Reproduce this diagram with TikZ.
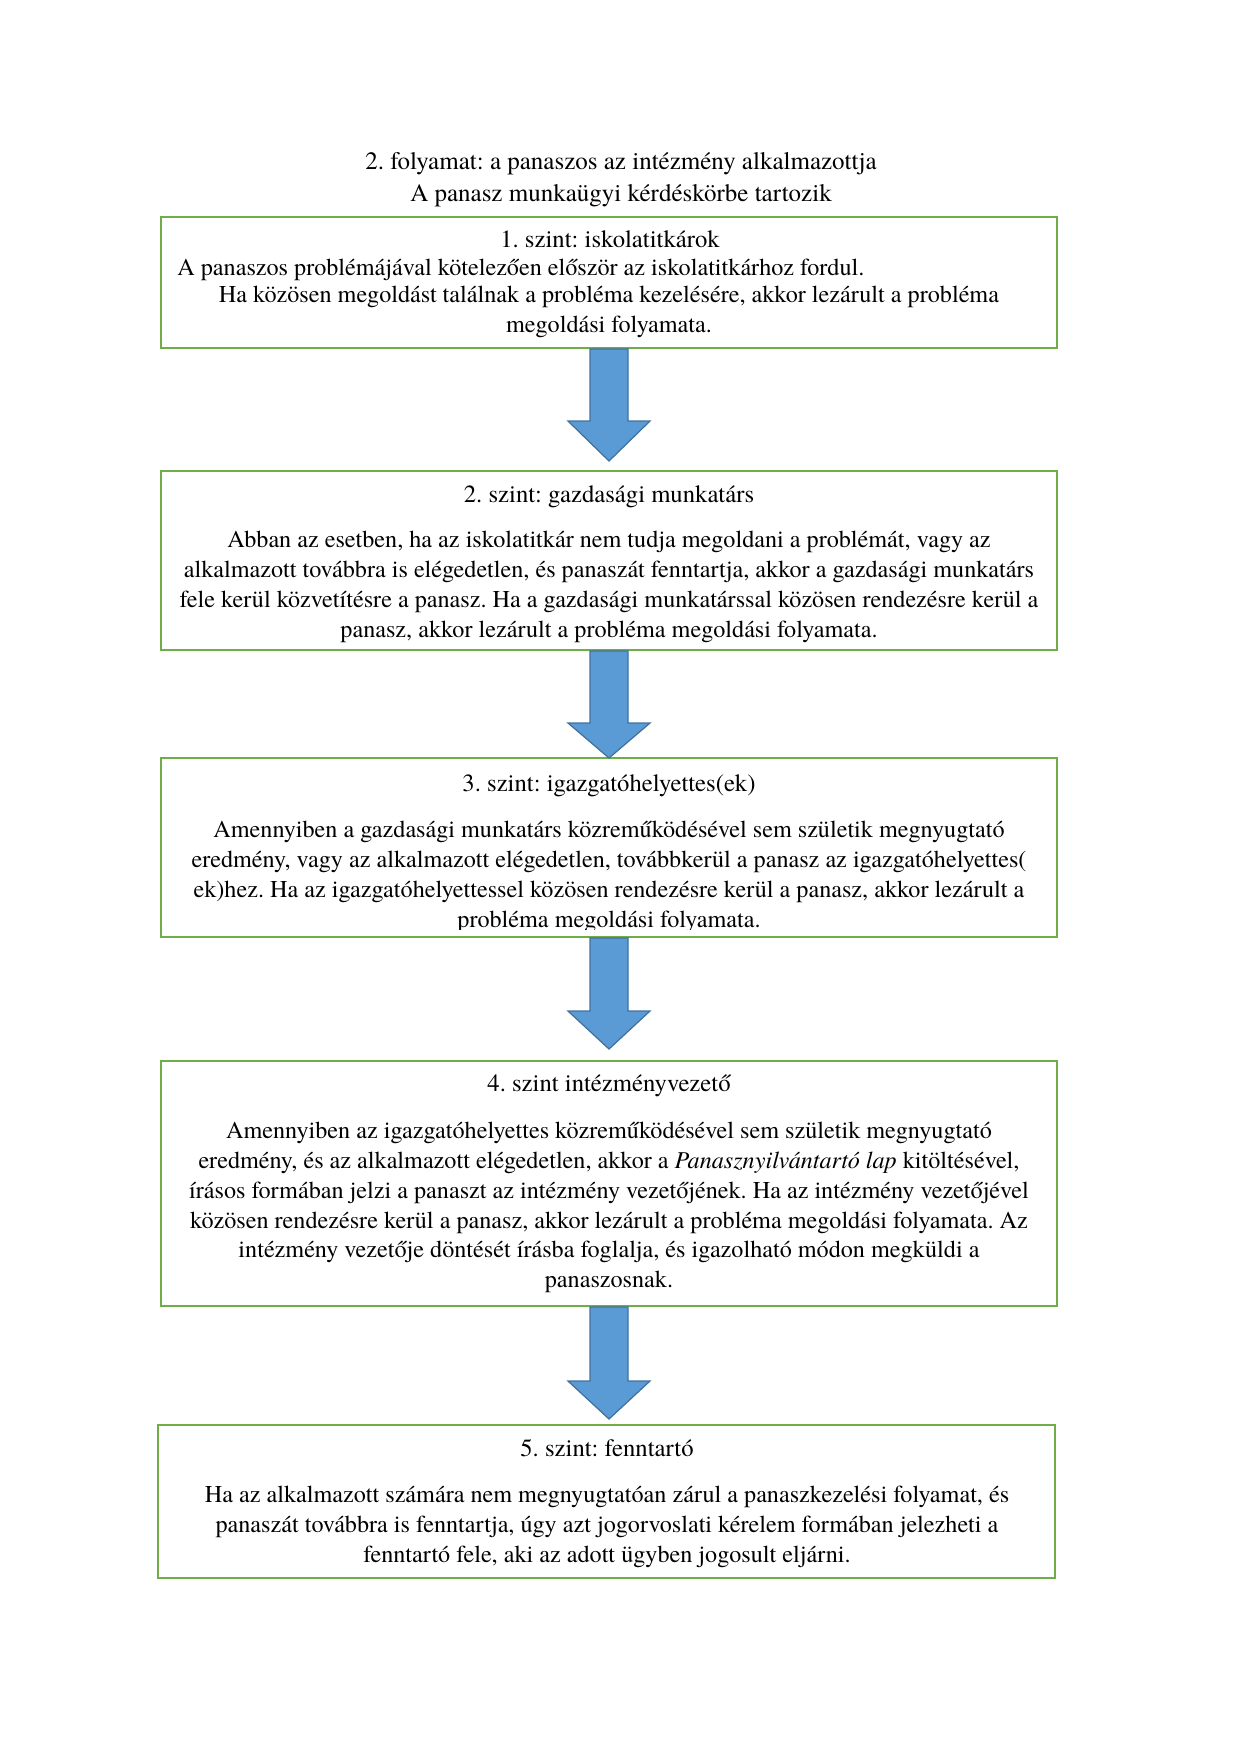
\documentclass[tikz,border=0pt]{standalone}
\usepackage{fontspec}
\setmainfont{texgyretermes}[Extension=.otf,UprightFont=*-regular,ItalicFont=*-italic,BoldFont=*-bold,BoldItalicFont=*-bolditalic]
\usetikzlibrary{calc}
\definecolor{boxgreen}{HTML}{70AD47}
\definecolor{arrfill}{HTML}{5B9BD5}
\definecolor{arrline}{HTML}{41719C}
\frenchspacing
\begin{document}
\begin{tikzpicture}[x=0.48pt,y=-0.48pt,
  box/.style={draw=boxgreen,line width=0.9pt,rectangle,inner sep=0pt,minimum width=430.08pt},
  txt/.style={font=\fontsize{11.6pt}{14.3pt}\selectfont,inner sep=0pt,align=center},
  hdr/.style={font=\fontsize{11.85pt}{14.3pt}\selectfont,inner sep=0pt,align=center,text height=10pt,text depth=2.5pt},
  ttl/.style={hdr,font=\fontsize{12pt}{14.3pt}\selectfont},
  blockarrow/.style={fill=arrfill,draw=arrline,line width=0.6pt,line join=miter}]
\useasboundingbox (0,0) rectangle (1241,1755);

% title
\node[ttl] (t1) at (621,162) {2. folyamat: a panaszos az intézmény alkalmazottja};
\node[ttl] (t2) at (621,194) {A panasz munkaügyi kérdéskörbe tartozik};

% boxes
\node[box,minimum height=62.88pt] (b1) at (609,282.5) {};
\node[box,minimum height=85.92pt] (b2) at (609,560.5) {};
\node[box,minimum height=85.92pt] (b3) at (609,847.5) {};
\node[box,minimum height=117.6pt] (b4) at (609,1183.5) {};
\node[box,minimum height=73.44pt,minimum width=430.56pt] (b5) at (606.5,1501.5) {};

% block arrows
\newcommand{\blockarr}[3]{%
  \filldraw[blockarrow] (590,#1) -- (628,#1) -- (628,#2) -- (650,#2) -- (609,#3) -- (568,#2) -- (590,#2) -- cycle;}
\blockarr{349}{421}{461}
\blockarr{651}{723}{758}
\blockarr{938}{1011}{1049}
\blockarr{1307}{1381}{1419}

% box 1 text
\begin{scope}
\clip (b1.south west) rectangle (b1.north east);
\node[hdr] (h1) at (610,240) {1. szint: iskolatitkárok};
\node[txt,anchor=west,text height=10pt,text depth=2.5pt] (p1a) at (177,267.5) {A panaszos problémájával kötelezően először az iskolatitkárhoz fordul.};
\node[txt] (p1b) at (609,312) {Ha közösen megoldást találnak a probléma kezelésére, akkor lezárult a probléma\\ megoldási folyamata.};
\end{scope}

% box 2 text
\begin{scope}
\clip ($(b2.south west)+(0,-8)$) rectangle (b2.north east);
\node[hdr] (h2) at (609,495) {2. szint: gazdasági munkatárs};
\node[txt] (p2) at (609,587) {Abban az esetben, ha az iskolatitkár nem tudja megoldani a problémát, vagy az\\ alkalmazott továbbra is elégedetlen, és panaszát fenntartja, akkor a gazdasági munkatárs\\ fele kerül közvetítésre a panasz. Ha a gazdasági munkatárssal közösen rendezésre kerül a\\ panasz, akkor lezárult a probléma megoldási folyamata.};
\end{scope}

% box 3 text
\begin{scope}
\clip ($(b3.south west)+(0,-8)$) rectangle (b3.north east);
\node[hdr] (h3) at (609,784) {3. szint: igazgatóhelyettes(ek)};
\node[txt] (p3) at (609,877) {Amennyiben a gazdasági munkatárs közreműködésével sem születik megnyugtató\\ eredmény, vagy az alkalmazott elégedetlen, továbbkerül a panasz az igazgatóhelyettes(\\ ek)hez. Ha az igazgatóhelyettessel közösen rendezésre kerül a panasz, akkor lezárult a\\ probléma megoldási folyamata.};
\end{scope}

% box 4 text
\begin{scope}
\clip (b4.south west) rectangle (b4.north east);
\node[hdr] (h4) at (609,1084) {4. szint intézményvezető};
\node[txt] (p4) at (609,1207.5) {Amennyiben az igazgatóhelyettes közreműködésével sem születik megnyugtató\\ eredmény, és az alkalmazott elégedetlen, akkor a \textit{Panasznyilvántartó lap} kitöltésével,\\ írásos formában jelzi a panaszt az intézmény vezetőjének. Ha az intézmény vezetőjével\\ közösen rendezésre kerül a panasz, akkor lezárult a probléma megoldási folyamata. Az\\ intézmény vezetője döntését írásba foglalja, és igazolható módon megküldi a\\ panaszosnak.};
\end{scope}

% box 5 text
\begin{scope}
\clip (b5.south west) rectangle (b5.north east);
\node[hdr] (h5) at (607,1449) {5. szint: fenntartó};
\node[txt] (p5) at (607,1527) {Ha az alkalmazott számára nem megnyugtatóan zárul a panaszkezelési folyamat, és\\ panaszát továbbra is fenntartja, úgy azt jogorvoslati kérelem formában jelezheti a\\ fenntartó fele, aki az adott ügyben jogosult eljárni.};
\end{scope}
\end{tikzpicture}
\end{document}
